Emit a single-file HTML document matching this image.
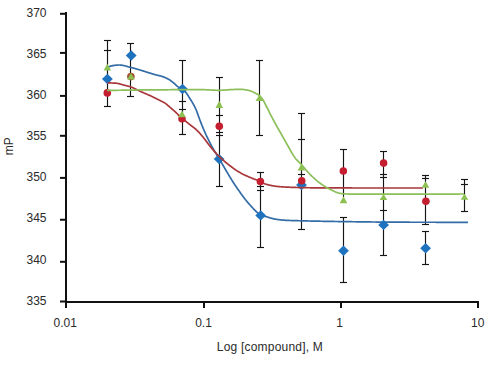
<!DOCTYPE html>
<html><head><meta charset="utf-8"><style>
html,body{margin:0;padding:0;background:#fff;width:491px;height:368px;overflow:hidden}
svg{display:block;font-family:"Liberation Sans",sans-serif}
</style></head><body>
<svg width="491" height="368" viewBox="0 0 491 368">
<rect width="491" height="368" fill="#fff"/>
<g fill="#2a2a2a" font-family="Liberation Sans, sans-serif" font-size="12"><text x="46.5" y="17.2" text-anchor="end">370</text><text x="46.5" y="57.9" text-anchor="end">365</text><text x="46.5" y="99.1" text-anchor="end">360</text><text x="46.5" y="140.1" text-anchor="end">355</text><text x="46.5" y="181.0" text-anchor="end">350</text><text x="46.5" y="222.4" text-anchor="end">345</text><text x="46.5" y="263.5" text-anchor="end">340</text><text x="46.5" y="305.0" text-anchor="end">335</text><text x="65.2" y="327.2" text-anchor="middle">0.01</text><text x="203.5" y="327.2" text-anchor="middle">0.1</text><text x="339.5" y="327.2" text-anchor="middle">1</text><text x="477.8" y="327.2" text-anchor="middle">10</text><text x="269.9" y="350.6" text-anchor="middle" letter-spacing="0.2">Log [compound], M</text><text transform="translate(12.7,146.3) rotate(-90)" text-anchor="middle">mP</text></g>
<g stroke="#151515" stroke-width="1.15" fill="none"><line x1="107.5" y1="40" x2="107.5" y2="107"/><line x1="104.0" y1="40.5" x2="111.0" y2="40.5"/><line x1="104.0" y1="50.5" x2="111.0" y2="50.5"/><line x1="104.0" y1="106.5" x2="111.0" y2="106.5"/><line x1="130.5" y1="43" x2="130.5" y2="97"/><line x1="127.0" y1="43.5" x2="134.0" y2="43.5"/><line x1="127.0" y1="96.5" x2="134.0" y2="96.5"/><line x1="182.5" y1="60" x2="182.5" y2="135"/><line x1="179.0" y1="60.5" x2="186.0" y2="60.5"/><line x1="179.0" y1="101.5" x2="186.0" y2="101.5"/><line x1="179.0" y1="109.5" x2="186.0" y2="109.5"/><line x1="179.0" y1="134.5" x2="186.0" y2="134.5"/><line x1="219.5" y1="77" x2="219.5" y2="187"/><line x1="216.0" y1="77.5" x2="223.0" y2="77.5"/><line x1="216.0" y1="115.5" x2="223.0" y2="115.5"/><line x1="216.0" y1="132.5" x2="223.0" y2="132.5"/><line x1="216.0" y1="135.5" x2="223.0" y2="135.5"/><line x1="216.0" y1="186.5" x2="223.0" y2="186.5"/><line x1="259.5" y1="60" x2="259.5" y2="136"/><line x1="256.0" y1="60.5" x2="263.0" y2="60.5"/><line x1="256.0" y1="135.5" x2="263.0" y2="135.5"/><line x1="260.5" y1="172" x2="260.5" y2="248"/><line x1="257.0" y1="172.5" x2="264.0" y2="172.5"/><line x1="257.0" y1="186.5" x2="264.0" y2="186.5"/><line x1="257.0" y1="190.5" x2="264.0" y2="190.5"/><line x1="257.0" y1="247.5" x2="264.0" y2="247.5"/><line x1="301.5" y1="113" x2="301.5" y2="230"/><line x1="298.0" y1="113.5" x2="305.0" y2="113.5"/><line x1="298.0" y1="139.5" x2="305.0" y2="139.5"/><line x1="298.0" y1="174.5" x2="305.0" y2="174.5"/><line x1="298.0" y1="229.5" x2="305.0" y2="229.5"/><line x1="343.5" y1="149" x2="343.5" y2="197"/><line x1="343.5" y1="217" x2="343.5" y2="283"/><line x1="340.0" y1="149.5" x2="347.0" y2="149.5"/><line x1="340.0" y1="217.5" x2="347.0" y2="217.5"/><line x1="340.0" y1="282.5" x2="347.0" y2="282.5"/><line x1="383.5" y1="151" x2="383.5" y2="256"/><line x1="380.0" y1="151.5" x2="387.0" y2="151.5"/><line x1="380.0" y1="174.5" x2="387.0" y2="174.5"/><line x1="380.0" y1="177.5" x2="387.0" y2="177.5"/><line x1="380.0" y1="210.5" x2="387.0" y2="210.5"/><line x1="380.0" y1="255.5" x2="387.0" y2="255.5"/><line x1="425.5" y1="175" x2="425.5" y2="225"/><line x1="425.5" y1="231" x2="425.5" y2="265"/><line x1="422.0" y1="175.5" x2="429.0" y2="175.5"/><line x1="422.0" y1="178.5" x2="429.0" y2="178.5"/><line x1="422.0" y1="224.5" x2="429.0" y2="224.5"/><line x1="422.0" y1="231.5" x2="429.0" y2="231.5"/><line x1="422.0" y1="264.5" x2="429.0" y2="264.5"/><line x1="464.5" y1="179" x2="464.5" y2="212"/><line x1="461.0" y1="179.5" x2="468.0" y2="179.5"/><line x1="461.0" y1="184.5" x2="468.0" y2="184.5"/><line x1="461.0" y1="211.5" x2="468.0" y2="211.5"/></g>
<g stroke="#111" stroke-width="2" fill="none"><line x1="66" y1="12" x2="66" y2="303" /><line x1="65" y1="302" x2="479" y2="302" /><line x1="60" y1="13.8" x2="66" y2="13.8" /><line x1="60" y1="52.9" x2="66" y2="52.9" /><line x1="60" y1="95.9" x2="66" y2="95.9" /><line x1="60" y1="135.8" x2="66" y2="135.8" /><line x1="60" y1="177.9" x2="66" y2="177.9" /><line x1="60" y1="219.75" x2="66" y2="219.75" /><line x1="60" y1="261.8" x2="66" y2="261.8" /><line x1="60" y1="301.5" x2="66" y2="301.5" /><line x1="66" y1="301" x2="66" y2="308" /><line x1="204" y1="301" x2="204" y2="308" /><line x1="341" y1="301" x2="341" y2="308" /><line x1="478" y1="301" x2="478" y2="308" /></g>
<path d="M107.50,67.30 L108.00,67.09 L108.50,66.89 L109.00,66.69 L109.50,66.50 L110.00,66.33 L110.50,66.17 L111.00,66.02 L111.50,65.90 L112.00,65.80 L112.50,65.71 L113.00,65.63 L113.50,65.54 L114.00,65.46 L114.50,65.38 L115.00,65.31 L115.50,65.25 L116.00,65.19 L116.50,65.13 L117.00,65.09 L117.50,65.05 L118.00,65.02 L118.50,65.01 L119.00,65.00 L119.50,65.01 L120.00,65.03 L120.50,65.07 L121.00,65.12 L121.50,65.18 L122.00,65.26 L122.50,65.34 L123.00,65.43 L123.50,65.54 L124.00,65.65 L124.50,65.77 L125.00,65.89 L125.50,66.02 L126.00,66.15 L126.50,66.29 L127.00,66.43 L127.50,66.56 L128.00,66.70 L128.50,66.84 L129.00,66.98 L129.50,67.12 L130.00,67.25 L130.50,67.38 L131.00,67.50 L131.50,67.62 L132.00,67.75 L132.50,67.87 L133.00,68.00 L133.50,68.13 L134.00,68.26 L134.50,68.40 L135.00,68.54 L135.50,68.68 L136.00,68.82 L136.50,68.96 L137.00,69.10 L137.50,69.25 L138.00,69.40 L138.50,69.55 L139.00,69.70 L139.50,69.85 L140.00,70.00 L140.50,70.15 L141.00,70.31 L141.50,70.46 L142.00,70.62 L142.50,70.77 L143.00,70.93 L143.50,71.09 L144.00,71.25 L144.50,71.40 L145.00,71.56 L145.50,71.72 L146.00,71.88 L146.50,72.03 L147.00,72.19 L147.50,72.35 L148.00,72.51 L148.50,72.66 L149.00,72.82 L149.50,72.97 L150.00,73.13 L150.50,73.28 L151.00,73.43 L151.50,73.58 L152.00,73.73 L152.50,73.88 L153.00,74.03 L153.50,74.17 L154.00,74.32 L154.50,74.46 L155.00,74.60 L155.50,74.74 L156.00,74.87 L156.50,75.00 L157.00,75.12 L157.50,75.25 L158.00,75.37 L158.50,75.49 L159.00,75.62 L159.50,75.74 L160.00,75.87 L160.50,76.00 L161.00,76.14 L161.50,76.28 L162.00,76.43 L162.50,76.59 L163.00,76.75 L163.50,76.92 L164.00,77.10 L164.50,77.29 L165.00,77.49 L165.50,77.70 L166.00,77.92 L166.50,78.15 L167.00,78.39 L167.50,78.64 L168.00,78.90 L168.50,79.18 L169.00,79.48 L169.50,79.80 L170.00,80.14 L170.50,80.50 L171.00,80.87 L171.50,81.24 L172.00,81.62 L172.50,82.01 L173.00,82.40 L173.50,82.81 L174.00,83.25 L174.50,83.72 L175.00,84.20 L175.50,84.68 L176.00,85.15 L176.50,85.60 L177.00,86.03 L177.50,86.41 L178.00,86.75 L178.50,87.03 L179.00,87.28 L179.50,87.49 L180.00,87.69 L180.50,87.89 L181.00,88.10 L181.50,88.33 L182.00,88.59 L182.50,88.90 L183.00,89.27 L183.50,89.70 L184.00,90.19 L184.50,90.73 L185.00,91.32 L185.50,91.95 L186.00,92.62 L186.50,93.32 L187.00,94.05 L187.50,94.81 L188.00,95.57 L188.50,96.35 L189.00,97.14 L189.50,97.93 L190.00,98.72 L190.50,99.50 L191.00,100.28 L191.50,101.08 L192.00,101.90 L192.50,102.74 L193.00,103.60 L193.50,104.50 L194.00,105.42 L194.50,106.38 L195.00,107.38 L195.50,108.42 L196.00,109.50 L196.50,110.68 L197.00,111.98 L197.50,113.36 L198.00,114.80 L198.50,116.24 L199.00,117.65 L199.50,119.00 L200.00,120.30 L200.50,121.60 L201.00,122.90 L201.50,124.18 L202.00,125.44 L202.50,126.69 L203.00,127.91 L203.50,129.11 L204.00,130.27 L204.50,131.41 L205.00,132.53 L205.50,133.64 L206.00,134.73 L206.50,135.81 L207.00,136.87 L207.50,137.92 L208.00,138.95 L208.50,139.98 L209.00,140.98 L209.50,141.98 L210.00,142.96 L210.50,143.92 L211.00,144.88 L211.50,145.81 L212.00,146.74 L212.50,147.64 L213.00,148.52 L213.50,149.39 L214.00,150.25 L214.50,151.09 L215.00,151.92 L215.50,152.75 L216.00,153.57 L216.50,154.39 L217.00,155.20 L217.50,156.02 L218.00,156.84 L218.50,157.67 L219.00,158.50 L219.50,159.34 L220.00,160.18 L220.50,161.03 L221.00,161.88 L221.50,162.73 L222.00,163.59 L222.50,164.44 L223.00,165.30 L223.50,166.16 L224.00,167.02 L224.50,167.88 L225.00,168.73 L225.50,169.59 L226.00,170.45 L226.50,171.30 L227.00,172.15 L227.50,172.99 L228.00,173.84 L228.50,174.68 L229.00,175.51 L229.50,176.34 L230.00,177.17 L230.50,177.98 L231.00,178.80 L231.50,179.60 L232.00,180.40 L232.50,181.19 L233.00,181.97 L233.50,182.74 L234.00,183.50 L234.50,184.26 L235.00,185.00 L235.50,185.74 L236.00,186.47 L236.50,187.21 L237.00,187.94 L237.50,188.67 L238.00,189.40 L238.50,190.12 L239.00,190.84 L239.50,191.56 L240.00,192.27 L240.50,192.98 L241.00,193.68 L241.50,194.38 L242.00,195.07 L242.50,195.75 L243.00,196.43 L243.50,197.10 L244.00,197.76 L244.50,198.42 L245.00,199.07 L245.50,199.70 L246.00,200.33 L246.50,200.95 L247.00,201.56 L247.50,202.17 L248.00,202.75 L248.50,203.33 L249.00,203.90 L249.50,204.46 L250.00,205.00 L250.50,205.54 L251.00,206.08 L251.50,206.63 L252.00,207.18 L252.50,207.72 L253.00,208.26 L253.50,208.80 L254.00,209.33 L254.50,209.85 L255.00,210.36 L255.50,210.86 L256.00,211.34 L256.50,211.80 L257.00,212.25 L257.50,212.68 L258.00,213.08 L258.50,213.46 L259.00,213.82 L259.50,214.14 L260.00,214.44 L260.50,214.70 L261.00,214.94 L261.50,215.15 L262.00,215.35 L262.50,215.54 L263.00,215.71 L263.50,215.87 L264.00,216.03 L264.50,216.18 L265.00,216.32 L265.50,216.47 L266.00,216.61 L266.50,216.75 L267.00,216.90 L267.50,217.05 L268.00,217.21 L268.50,217.36 L269.00,217.52 L269.50,217.67 L270.00,217.83 L270.50,217.98 L271.00,218.13 L271.50,218.27 L272.00,218.41 L272.50,218.55 L273.00,218.68 L273.50,218.80 L274.00,218.91 L274.50,219.02 L275.00,219.12 L275.50,219.20 L276.00,219.28 L276.50,219.35 L277.00,219.43 L277.50,219.50 L278.00,219.57 L278.50,219.63 L279.00,219.70 L279.50,219.76 L280.00,219.82 L280.50,219.88 L281.00,219.93 L281.50,219.98 L282.00,220.03 L282.50,220.07 L283.00,220.11 L283.50,220.15 L284.00,220.19 L284.50,220.22 L285.00,220.25 L285.50,220.28 L286.00,220.30 L286.50,220.33 L287.00,220.35 L287.50,220.38 L288.00,220.40 L288.50,220.42 L289.00,220.44 L289.50,220.46 L290.00,220.48 L290.50,220.50 L291.00,220.52 L291.50,220.53 L292.00,220.55 L292.50,220.57 L293.00,220.58 L293.50,220.60 L294.00,220.61 L294.50,220.63 L295.00,220.64 L295.50,220.66 L296.00,220.67 L296.50,220.68 L297.00,220.70 L297.50,220.71 L298.00,220.72 L298.50,220.74 L299.00,220.75 L299.50,220.76 L300.00,220.77 L300.50,220.79 L301.00,220.80 L301.50,220.81 L302.00,220.83 L302.50,220.84 L303.00,220.85 L303.50,220.86 L304.00,220.88 L304.50,220.89 L305.00,220.90 L305.50,220.91 L306.00,220.92 L306.50,220.94 L307.00,220.95 L307.50,220.96 L308.00,220.97 L308.50,220.98 L309.00,220.99 L309.50,221.00 L310.00,221.02 L310.50,221.03 L311.00,221.04 L311.50,221.05 L312.00,221.06 L312.50,221.07 L313.00,221.08 L313.50,221.09 L314.00,221.10 L314.50,221.11 L315.00,221.12 L315.50,221.13 L316.00,221.14 L316.50,221.15 L317.00,221.16 L317.50,221.18 L318.00,221.18 L318.50,221.19 L319.00,221.20 L319.50,221.21 L320.00,221.22 L320.50,221.23 L321.00,221.24 L321.50,221.25 L322.00,221.26 L322.50,221.27 L323.00,221.28 L323.50,221.29 L324.00,221.30 L324.50,221.31 L325.00,221.32 L325.50,221.33 L326.00,221.33 L326.50,221.34 L327.00,221.35 L327.50,221.36 L328.00,221.37 L328.50,221.38 L329.00,221.39 L329.50,221.40 L330.00,221.40 L330.50,221.41 L331.00,221.42 L331.50,221.43 L332.00,221.44 L332.50,221.44 L333.00,221.45 L333.50,221.46 L334.00,221.47 L334.50,221.48 L335.00,221.48 L335.50,221.49 L336.00,221.50 L336.50,221.51 L337.00,221.51 L337.50,221.52 L338.00,221.53 L338.50,221.54 L339.00,221.54 L339.50,221.55 L340.00,221.56 L340.50,221.56 L341.00,221.57 L341.50,221.58 L342.00,221.59 L342.50,221.59 L343.00,221.60 L343.50,221.61 L344.00,221.61 L344.50,221.62 L345.00,221.63 L345.50,221.63 L346.00,221.64 L346.50,221.65 L347.00,221.66 L347.50,221.66 L348.00,221.67 L348.50,221.68 L349.00,221.68 L349.50,221.69 L350.00,221.70 L350.50,221.70 L351.00,221.71 L351.50,221.72 L352.00,221.72 L352.50,221.73 L353.00,221.74 L353.50,221.75 L354.00,221.75 L354.50,221.76 L355.00,221.77 L355.50,221.77 L356.00,221.78 L356.50,221.79 L357.00,221.79 L357.50,221.80 L358.00,221.81 L358.50,221.81 L359.00,221.82 L359.50,221.83 L360.00,221.83 L360.50,221.84 L361.00,221.85 L361.50,221.85 L362.00,221.86 L362.50,221.87 L363.00,221.87 L363.50,221.88 L364.00,221.89 L364.50,221.89 L365.00,221.90 L365.50,221.91 L366.00,221.91 L366.50,221.92 L367.00,221.92 L367.50,221.93 L368.00,221.94 L368.50,221.94 L369.00,221.95 L369.50,221.96 L370.00,221.96 L370.50,221.97 L371.00,221.97 L371.50,221.98 L372.00,221.99 L372.50,221.99 L373.00,222.00 L373.50,222.00 L374.00,222.01 L374.50,222.01 L375.00,222.02 L375.50,222.02 L376.00,222.03 L376.50,222.04 L377.00,222.04 L377.50,222.05 L378.00,222.05 L378.50,222.06 L379.00,222.06 L379.50,222.07 L380.00,222.07 L380.50,222.08 L381.00,222.08 L381.50,222.08 L382.00,222.09 L382.50,222.09 L383.00,222.10 L383.50,222.10 L384.00,222.11 L384.50,222.11 L385.00,222.12 L385.50,222.12 L386.00,222.12 L386.50,222.13 L387.00,222.13 L387.50,222.14 L388.00,222.14 L388.50,222.14 L389.00,222.15 L389.50,222.15 L390.00,222.15 L390.50,222.16 L391.00,222.16 L391.50,222.16 L392.00,222.17 L392.50,222.17 L393.00,222.17 L393.50,222.17 L394.00,222.18 L394.50,222.18 L395.00,222.18 L395.50,222.18 L396.00,222.19 L396.50,222.19 L397.00,222.19 L397.50,222.19 L398.00,222.19 L398.50,222.20 L399.00,222.20 L399.50,222.20 L400.00,222.20 L400.50,222.20 L401.00,222.20 L401.50,222.20 L402.00,222.21 L402.50,222.21 L403.00,222.21 L403.50,222.21 L404.00,222.21 L404.50,222.21 L405.00,222.21 L405.50,222.21 L406.00,222.22 L406.50,222.22 L407.00,222.22 L407.50,222.22 L408.00,222.22 L408.50,222.22 L409.00,222.22 L409.50,222.22 L410.00,222.23 L410.50,222.23 L411.00,222.23 L411.50,222.23 L412.00,222.23 L412.50,222.23 L413.00,222.23 L413.50,222.23 L414.00,222.23 L414.50,222.24 L415.00,222.24 L415.50,222.24 L416.00,222.24 L416.50,222.24 L417.00,222.24 L417.50,222.24 L418.00,222.24 L418.50,222.24 L419.00,222.25 L419.50,222.25 L420.00,222.25 L420.50,222.25 L421.00,222.25 L421.50,222.25 L422.00,222.25 L422.50,222.25 L423.00,222.25 L423.50,222.25 L424.00,222.26 L424.50,222.26 L425.00,222.26 L425.50,222.26 L426.00,222.26 L426.50,222.26 L427.00,222.26 L427.50,222.26 L428.00,222.26 L428.50,222.26 L429.00,222.26 L429.50,222.27 L430.00,222.27 L430.50,222.27 L431.00,222.27 L431.50,222.27 L432.00,222.27 L432.50,222.27 L433.00,222.27 L433.50,222.27 L434.00,222.27 L434.50,222.27 L435.00,222.27 L435.50,222.27 L436.00,222.28 L436.50,222.28 L437.00,222.28 L437.50,222.28 L438.00,222.28 L438.50,222.28 L439.00,222.28 L439.50,222.28 L440.00,222.28 L440.50,222.28 L441.00,222.28 L441.50,222.28 L442.00,222.28 L442.50,222.28 L443.00,222.28 L443.50,222.29 L444.00,222.29 L444.50,222.29 L445.00,222.29 L445.50,222.29 L446.00,222.29 L446.50,222.29 L447.00,222.29 L447.50,222.29 L448.00,222.29 L448.50,222.29 L449.00,222.29 L449.50,222.29 L450.00,222.29 L450.50,222.29 L451.00,222.29 L451.50,222.29 L452.00,222.29 L452.50,222.29 L453.00,222.29 L453.50,222.29 L454.00,222.30 L454.50,222.30 L455.00,222.30 L455.50,222.30 L456.00,222.30 L456.50,222.30 L457.00,222.30 L457.50,222.30 L458.00,222.30 L458.50,222.30 L459.00,222.30 L459.50,222.30 L460.00,222.30 L460.50,222.30 L461.00,222.30 L461.50,222.30 L462.00,222.30 L462.50,222.30 L463.00,222.30 L463.50,222.30 L464.00,222.30 L464.50,222.30 L465.00,222.30 L465.50,222.30 L466.00,222.30 L466.50,222.30 L467.00,222.30 L467.50,222.30 L468.00,222.30" fill="none" stroke="#336ca6" stroke-width="1.7"/><g fill="#1f73be"><path d="M107.4,73.8 L112.80000000000001,79.0 L107.4,84.2 L102.0,79.0Z"/><path d="M131.2,50.3 L136.6,55.5 L131.2,60.7 L125.79999999999998,55.5Z"/><path d="M182.5,83.8 L187.9,89 L182.5,94.2 L177.1,89Z"/><path d="M219.1,153.9 L224.5,159.1 L219.1,164.29999999999998 L213.7,159.1Z"/><path d="M260.7,210.20000000000002 L266.09999999999997,215.4 L260.7,220.6 L255.29999999999998,215.4Z"/><path d="M301.5,179.8 L306.9,185 L301.5,190.2 L296.1,185Z"/><path d="M343.5,245.5 L348.9,250.7 L343.5,255.89999999999998 L338.1,250.7Z"/><path d="M383.6,219.70000000000002 L389.0,224.9 L383.6,230.1 L378.20000000000005,224.9Z"/><path d="M425.6,243.0 L431.0,248.2 L425.6,253.39999999999998 L420.20000000000005,248.2Z"/></g><path d="M107.50,82.90 L108.00,82.90 L108.50,82.91 L109.00,82.91 L109.50,82.92 L110.00,82.93 L110.50,82.94 L111.00,82.96 L111.50,82.98 L112.00,82.99 L112.50,83.01 L113.00,83.04 L113.50,83.06 L114.00,83.09 L114.50,83.11 L115.00,83.14 L115.50,83.17 L116.00,83.20 L116.50,83.24 L117.00,83.30 L117.50,83.38 L118.00,83.47 L118.50,83.58 L119.00,83.70 L119.50,83.82 L120.00,83.96 L120.50,84.10 L121.00,84.25 L121.50,84.39 L122.00,84.54 L122.50,84.69 L123.00,84.83 L123.50,84.97 L124.00,85.10 L124.50,85.23 L125.00,85.35 L125.50,85.47 L126.00,85.60 L126.50,85.72 L127.00,85.85 L127.50,85.97 L128.00,86.10 L128.50,86.24 L129.00,86.38 L129.50,86.52 L130.00,86.68 L130.50,86.83 L131.00,87.00 L131.50,87.18 L132.00,87.37 L132.50,87.58 L133.00,87.79 L133.50,88.02 L134.00,88.25 L134.50,88.50 L135.00,88.75 L135.50,89.00 L136.00,89.25 L136.50,89.51 L137.00,89.77 L137.50,90.03 L138.00,90.28 L138.50,90.53 L139.00,90.78 L139.50,91.02 L140.00,91.25 L140.50,91.47 L141.00,91.70 L141.50,91.92 L142.00,92.13 L142.50,92.35 L143.00,92.56 L143.50,92.78 L144.00,92.99 L144.50,93.20 L145.00,93.41 L145.50,93.62 L146.00,93.83 L146.50,94.05 L147.00,94.26 L147.50,94.48 L148.00,94.70 L148.50,94.92 L149.00,95.14 L149.50,95.37 L150.00,95.60 L150.50,95.83 L151.00,96.07 L151.50,96.31 L152.00,96.56 L152.50,96.80 L153.00,97.05 L153.50,97.30 L154.00,97.55 L154.50,97.80 L155.00,98.06 L155.50,98.31 L156.00,98.57 L156.50,98.82 L157.00,99.08 L157.50,99.33 L158.00,99.59 L158.50,99.84 L159.00,100.10 L159.50,100.35 L160.00,100.60 L160.50,100.84 L161.00,101.08 L161.50,101.31 L162.00,101.54 L162.50,101.77 L163.00,102.01 L163.50,102.26 L164.00,102.52 L164.50,102.80 L165.00,103.10 L165.50,103.43 L166.00,103.80 L166.50,104.20 L167.00,104.62 L167.50,105.06 L168.00,105.51 L168.50,105.96 L169.00,106.42 L169.50,106.87 L170.00,107.30 L170.50,107.72 L171.00,108.15 L171.50,108.57 L172.00,108.99 L172.50,109.41 L173.00,109.84 L173.50,110.27 L174.00,110.70 L174.50,111.14 L175.00,111.58 L175.50,112.04 L176.00,112.50 L176.50,112.98 L177.00,113.49 L177.50,114.02 L178.00,114.56 L178.50,115.10 L179.00,115.65 L179.50,116.19 L180.00,116.72 L180.50,117.23 L181.00,117.72 L181.50,118.18 L182.00,118.60 L182.50,118.98 L183.00,119.32 L183.50,119.65 L184.00,120.00 L184.50,120.37 L185.00,120.75 L185.50,121.13 L186.00,121.52 L186.50,121.91 L187.00,122.30 L187.50,122.70 L188.00,123.10 L188.50,123.50 L189.00,123.90 L189.50,124.30 L190.00,124.70 L190.50,125.10 L191.00,125.49 L191.50,125.87 L192.00,126.25 L192.50,126.63 L193.00,127.01 L193.50,127.39 L194.00,127.78 L194.50,128.18 L195.00,128.59 L195.50,129.01 L196.00,129.45 L196.50,129.90 L197.00,130.37 L197.50,130.86 L198.00,131.37 L198.50,131.89 L199.00,132.43 L199.50,132.98 L200.00,133.54 L200.50,134.11 L201.00,134.69 L201.50,135.27 L202.00,135.86 L202.50,136.45 L203.00,137.05 L203.50,137.67 L204.00,138.30 L204.50,138.95 L205.00,139.61 L205.50,140.28 L206.00,140.95 L206.50,141.62 L207.00,142.29 L207.50,142.96 L208.00,143.62 L208.50,144.27 L209.00,144.90 L209.50,145.53 L210.00,146.15 L210.50,146.77 L211.00,147.40 L211.50,148.01 L212.00,148.63 L212.50,149.23 L213.00,149.83 L213.50,150.42 L214.00,151.00 L214.50,151.57 L215.00,152.13 L215.50,152.67 L216.00,153.20 L216.50,153.73 L217.00,154.24 L217.50,154.75 L218.00,155.25 L218.50,155.74 L219.00,156.23 L219.50,156.71 L220.00,157.19 L220.50,157.66 L221.00,158.13 L221.50,158.60 L222.00,159.06 L222.50,159.53 L223.00,159.98 L223.50,160.44 L224.00,160.88 L224.50,161.32 L225.00,161.76 L225.50,162.18 L226.00,162.59 L226.50,163.00 L227.00,163.40 L227.50,163.80 L228.00,164.19 L228.50,164.59 L229.00,164.98 L229.50,165.37 L230.00,165.76 L230.50,166.15 L231.00,166.53 L231.50,166.91 L232.00,167.29 L232.50,167.66 L233.00,168.03 L233.50,168.39 L234.00,168.75 L234.50,169.10 L235.00,169.45 L235.50,169.80 L236.00,170.13 L236.50,170.47 L237.00,170.79 L237.50,171.11 L238.00,171.42 L238.50,171.73 L239.00,172.03 L239.50,172.32 L240.00,172.60 L240.50,172.88 L241.00,173.15 L241.50,173.41 L242.00,173.68 L242.50,173.93 L243.00,174.19 L243.50,174.44 L244.00,174.68 L244.50,174.92 L245.00,175.16 L245.50,175.40 L246.00,175.63 L246.50,175.86 L247.00,176.08 L247.50,176.30 L248.00,176.52 L248.50,176.74 L249.00,176.95 L249.50,177.17 L250.00,177.38 L250.50,177.59 L251.00,177.79 L251.50,178.00 L252.00,178.20 L252.50,178.40 L253.00,178.60 L253.50,178.80 L254.00,179.00 L254.50,179.19 L255.00,179.37 L255.50,179.55 L256.00,179.72 L256.50,179.88 L257.00,180.05 L257.50,180.21 L258.00,180.38 L258.50,180.55 L259.00,180.73 L259.50,180.92 L260.00,181.13 L260.50,181.35 L261.00,181.60 L261.50,181.90 L262.00,182.22 L262.50,182.55 L263.00,182.87 L263.50,183.19 L264.00,183.47 L264.50,183.71 L265.00,183.90 L265.50,184.05 L266.00,184.20 L266.50,184.34 L267.00,184.48 L267.50,184.62 L268.00,184.75 L268.50,184.87 L269.00,185.00 L269.50,185.12 L270.00,185.23 L270.50,185.34 L271.00,185.45 L271.50,185.55 L272.00,185.65 L272.50,185.74 L273.00,185.83 L273.50,185.92 L274.00,186.00 L274.50,186.08 L275.00,186.16 L275.50,186.23 L276.00,186.29 L276.50,186.36 L277.00,186.42 L277.50,186.47 L278.00,186.53 L278.50,186.58 L279.00,186.62 L279.50,186.66 L280.00,186.70 L280.50,186.74 L281.00,186.77 L281.50,186.80 L282.00,186.84 L282.50,186.87 L283.00,186.90 L283.50,186.93 L284.00,186.96 L284.50,186.99 L285.00,187.02 L285.50,187.05 L286.00,187.07 L286.50,187.10 L287.00,187.12 L287.50,187.15 L288.00,187.17 L288.50,187.20 L289.00,187.22 L289.50,187.24 L290.00,187.26 L290.50,187.28 L291.00,187.30 L291.50,187.32 L292.00,187.34 L292.50,187.36 L293.00,187.38 L293.50,187.40 L294.00,187.41 L294.50,187.43 L295.00,187.44 L295.50,187.46 L296.00,187.47 L296.50,187.49 L297.00,187.50 L297.50,187.52 L298.00,187.53 L298.50,187.54 L299.00,187.55 L299.50,187.57 L300.00,187.58 L300.50,187.59 L301.00,187.60 L301.50,187.61 L302.00,187.62 L302.50,187.63 L303.00,187.64 L303.50,187.65 L304.00,187.66 L304.50,187.67 L305.00,187.68 L305.50,187.69 L306.00,187.70 L306.50,187.71 L307.00,187.72 L307.50,187.73 L308.00,187.74 L308.50,187.75 L309.00,187.76 L309.50,187.77 L310.00,187.77 L310.50,187.78 L311.00,187.79 L311.50,187.80 L312.00,187.80 L312.50,187.81 L313.00,187.82 L313.50,187.83 L314.00,187.83 L314.50,187.84 L315.00,187.84 L315.50,187.85 L316.00,187.86 L316.50,187.86 L317.00,187.87 L317.50,187.87 L318.00,187.88 L318.50,187.88 L319.00,187.88 L319.50,187.89 L320.00,187.89 L320.50,187.89 L321.00,187.90 L321.50,187.90 L322.00,187.90 L322.50,187.90 L323.00,187.90 L323.50,187.91 L324.00,187.91 L324.50,187.91 L325.00,187.91 L325.50,187.91 L326.00,187.91 L326.50,187.91 L327.00,187.92 L327.50,187.92 L328.00,187.92 L328.50,187.92 L329.00,187.92 L329.50,187.92 L330.00,187.93 L330.50,187.93 L331.00,187.93 L331.50,187.93 L332.00,187.93 L332.50,187.93 L333.00,187.93 L333.50,187.94 L334.00,187.94 L334.50,187.94 L335.00,187.94 L335.50,187.94 L336.00,187.94 L336.50,187.94 L337.00,187.94 L337.50,187.95 L338.00,187.95 L338.50,187.95 L339.00,187.95 L339.50,187.95 L340.00,187.95 L340.50,187.95 L341.00,187.95 L341.50,187.96 L342.00,187.96 L342.50,187.96 L343.00,187.96 L343.50,187.96 L344.00,187.96 L344.50,187.96 L345.00,187.96 L345.50,187.96 L346.00,187.96 L346.50,187.97 L347.00,187.97 L347.50,187.97 L348.00,187.97 L348.50,187.97 L349.00,187.97 L349.50,187.97 L350.00,187.97 L350.50,187.97 L351.00,187.97 L351.50,187.97 L352.00,187.98 L352.50,187.98 L353.00,187.98 L353.50,187.98 L354.00,187.98 L354.50,187.98 L355.00,187.98 L355.50,187.98 L356.00,187.98 L356.50,187.98 L357.00,187.98 L357.50,187.98 L358.00,187.98 L358.50,187.99 L359.00,187.99 L359.50,187.99 L360.00,187.99 L360.50,187.99 L361.00,187.99 L361.50,187.99 L362.00,187.99 L362.50,187.99 L363.00,187.99 L363.50,187.99 L364.00,187.99 L364.50,187.99 L365.00,187.99 L365.50,187.99 L366.00,187.99 L366.50,187.99 L367.00,187.99 L367.50,187.99 L368.00,187.99 L368.50,188.00 L369.00,188.00 L369.50,188.00 L370.00,188.00 L370.50,188.00 L371.00,188.00 L371.50,188.00 L372.00,188.00 L372.50,188.00 L373.00,188.00 L373.50,188.00 L374.00,188.00 L374.50,188.00 L375.00,188.00 L375.50,188.00 L376.00,188.00 L376.50,188.00 L377.00,188.00 L377.50,188.00 L378.00,188.00 L378.50,188.00 L379.00,188.00 L379.50,188.00 L380.00,188.00 L380.50,188.00 L381.00,188.00 L381.50,188.00 L382.00,188.00 L382.50,188.00 L383.00,188.00 L383.50,188.00 L384.00,188.00 L384.50,188.00 L385.00,188.00 L385.50,188.00 L386.00,188.00 L386.50,188.00 L387.00,188.00 L387.50,188.00 L388.00,188.00 L388.50,188.00 L389.00,188.00 L389.50,188.00 L390.00,188.00 L390.50,188.00 L391.00,188.00 L391.50,188.00 L392.00,188.00 L392.50,188.00 L393.00,188.00 L393.50,188.00 L394.00,188.00 L394.50,188.00 L395.00,188.00 L395.50,188.00 L396.00,188.00 L396.50,188.00 L397.00,188.00 L397.50,188.00 L398.00,188.00 L398.50,188.00 L399.00,188.00 L399.50,188.00 L400.00,188.00 L400.50,188.00 L401.00,188.00 L401.50,188.00 L402.00,188.00 L402.50,188.00 L403.00,188.00 L403.50,188.00 L404.00,188.00 L404.50,188.00 L405.00,188.00 L405.50,188.00 L406.00,188.00 L406.50,188.00 L407.00,188.00 L407.50,188.00 L408.00,188.00 L408.50,188.00 L409.00,188.00 L409.50,188.00 L410.00,188.00 L410.50,188.00 L411.00,188.00 L411.50,188.00 L412.00,188.00 L412.50,188.00 L413.00,188.00 L413.50,188.00 L414.00,188.00 L414.50,188.00 L415.00,188.00 L415.50,188.00 L416.00,188.00 L416.50,188.00 L417.00,188.00 L417.50,188.00 L418.00,188.00 L418.50,188.00 L419.00,188.00 L419.50,188.00 L420.00,188.00 L420.50,188.00 L421.00,188.00 L421.50,188.00 L422.00,188.00 L422.50,188.00 L423.00,188.00" fill="none" stroke="#a8383b" stroke-width="1.7"/><g fill="#c41e30"><circle cx="107.3" cy="92.9" r="3.8"/><circle cx="130.9" cy="76.6" r="3.8" fill="#a4502f"/><circle cx="182" cy="118.8" r="3.8"/><circle cx="219.3" cy="126.3" r="3.8"/><circle cx="260.4" cy="181.5" r="3.8"/><circle cx="301.7" cy="180.8" r="3.8"/><circle cx="343.35" cy="171" r="3.8"/><circle cx="383.6" cy="163.1" r="3.8"/><circle cx="425.9" cy="201.2" r="3.8"/></g><path d="M107.00,90.40 L107.50,90.39 L108.00,90.39 L108.50,90.38 L109.00,90.38 L109.50,90.37 L110.00,90.36 L110.50,90.36 L111.00,90.35 L111.50,90.35 L112.00,90.34 L112.50,90.33 L113.00,90.33 L113.50,90.32 L114.00,90.31 L114.50,90.31 L115.00,90.30 L115.50,90.30 L116.00,90.29 L116.50,90.28 L117.00,90.28 L117.50,90.27 L118.00,90.26 L118.50,90.26 L119.00,90.25 L119.50,90.25 L120.00,90.24 L120.50,90.23 L121.00,90.23 L121.50,90.22 L122.00,90.21 L122.50,90.21 L123.00,90.20 L123.50,90.20 L124.00,90.19 L124.50,90.18 L125.00,90.18 L125.50,90.17 L126.00,90.16 L126.50,90.16 L127.00,90.15 L127.50,90.14 L128.00,90.14 L128.50,90.13 L129.00,90.13 L129.50,90.12 L130.00,90.11 L130.50,90.11 L131.00,90.10 L131.50,90.09 L132.00,90.09 L132.50,90.08 L133.00,90.07 L133.50,90.07 L134.00,90.06 L134.50,90.05 L135.00,90.04 L135.50,90.04 L136.00,90.03 L136.50,90.02 L137.00,90.01 L137.50,90.00 L138.00,90.00 L138.50,89.99 L139.00,89.98 L139.50,89.97 L140.00,89.96 L140.50,89.96 L141.00,89.95 L141.50,89.94 L142.00,89.93 L142.50,89.93 L143.00,89.92 L143.50,89.91 L144.00,89.91 L144.50,89.90 L145.00,89.89 L145.50,89.89 L146.00,89.88 L146.50,89.88 L147.00,89.87 L147.50,89.87 L148.00,89.86 L148.50,89.86 L149.00,89.86 L149.50,89.85 L150.00,89.85 L150.50,89.85 L151.00,89.85 L151.50,89.84 L152.00,89.84 L152.50,89.84 L153.00,89.84 L153.50,89.84 L154.00,89.83 L154.50,89.83 L155.00,89.83 L155.50,89.83 L156.00,89.83 L156.50,89.83 L157.00,89.83 L157.50,89.83 L158.00,89.82 L158.50,89.82 L159.00,89.82 L159.50,89.82 L160.00,89.82 L160.50,89.82 L161.00,89.82 L161.50,89.81 L162.00,89.81 L162.50,89.81 L163.00,89.81 L163.50,89.81 L164.00,89.80 L164.50,89.80 L165.00,89.80 L165.50,89.80 L166.00,89.79 L166.50,89.79 L167.00,89.78 L167.50,89.78 L168.00,89.77 L168.50,89.76 L169.00,89.75 L169.50,89.75 L170.00,89.74 L170.50,89.73 L171.00,89.72 L171.50,89.71 L172.00,89.70 L172.50,89.69 L173.00,89.68 L173.50,89.67 L174.00,89.66 L174.50,89.65 L175.00,89.65 L175.50,89.64 L176.00,89.63 L176.50,89.62 L177.00,89.62 L177.50,89.61 L178.00,89.61 L178.50,89.60 L179.00,89.60 L179.50,89.60 L180.00,89.60 L180.50,89.60 L181.00,89.60 L181.50,89.60 L182.00,89.60 L182.50,89.60 L183.00,89.60 L183.50,89.60 L184.00,89.60 L184.50,89.60 L185.00,89.60 L185.50,89.60 L186.00,89.60 L186.50,89.60 L187.00,89.60 L187.50,89.60 L188.00,89.60 L188.50,89.60 L189.00,89.60 L189.50,89.60 L190.00,89.60 L190.50,89.60 L191.00,89.60 L191.50,89.60 L192.00,89.60 L192.50,89.60 L193.00,89.60 L193.50,89.60 L194.00,89.60 L194.50,89.60 L195.00,89.60 L195.50,89.60 L196.00,89.60 L196.50,89.60 L197.00,89.60 L197.50,89.60 L198.00,89.60 L198.50,89.60 L199.00,89.60 L199.50,89.60 L200.00,89.60 L200.50,89.60 L201.00,89.61 L201.50,89.61 L202.00,89.62 L202.50,89.63 L203.00,89.65 L203.50,89.66 L204.00,89.68 L204.50,89.70 L205.00,89.72 L205.50,89.74 L206.00,89.77 L206.50,89.79 L207.00,89.82 L207.50,89.84 L208.00,89.87 L208.50,89.89 L209.00,89.92 L209.50,89.95 L210.00,89.98 L210.50,90.01 L211.00,90.03 L211.50,90.06 L212.00,90.08 L212.50,90.11 L213.00,90.13 L213.50,90.16 L214.00,90.18 L214.50,90.20 L215.00,90.22 L215.50,90.24 L216.00,90.25 L216.50,90.27 L217.00,90.28 L217.50,90.29 L218.00,90.29 L218.50,90.30 L219.00,90.30 L219.50,90.30 L220.00,90.29 L220.50,90.28 L221.00,90.26 L221.50,90.24 L222.00,90.22 L222.50,90.19 L223.00,90.16 L223.50,90.13 L224.00,90.10 L224.50,90.06 L225.00,90.03 L225.50,89.99 L226.00,89.95 L226.50,89.92 L227.00,89.88 L227.50,89.85 L228.00,89.81 L228.50,89.78 L229.00,89.75 L229.50,89.72 L230.00,89.70 L230.50,89.68 L231.00,89.65 L231.50,89.63 L232.00,89.60 L232.50,89.57 L233.00,89.55 L233.50,89.52 L234.00,89.49 L234.50,89.47 L235.00,89.44 L235.50,89.42 L236.00,89.40 L236.50,89.38 L237.00,89.36 L237.50,89.34 L238.00,89.33 L238.50,89.32 L239.00,89.31 L239.50,89.30 L240.00,89.30 L240.50,89.31 L241.00,89.32 L241.50,89.35 L242.00,89.38 L242.50,89.42 L243.00,89.47 L243.50,89.53 L244.00,89.59 L244.50,89.66 L245.00,89.74 L245.50,89.81 L246.00,89.90 L246.50,89.98 L247.00,90.07 L247.50,90.16 L248.00,90.25 L248.50,90.35 L249.00,90.47 L249.50,90.61 L250.00,90.76 L250.50,90.93 L251.00,91.11 L251.50,91.30 L252.00,91.51 L252.50,91.72 L253.00,91.95 L253.50,92.18 L254.00,92.41 L254.50,92.66 L255.00,92.90 L255.50,93.15 L256.00,93.40 L256.50,93.65 L257.00,93.92 L257.50,94.20 L258.00,94.51 L258.50,94.84 L259.00,95.20 L259.50,95.60 L260.00,96.06 L260.50,96.59 L261.00,97.19 L261.50,97.84 L262.00,98.53 L262.50,99.26 L263.00,100.00 L263.50,100.79 L264.00,101.66 L264.50,102.58 L265.00,103.54 L265.50,104.53 L266.00,105.53 L266.50,106.51 L267.00,107.49 L267.50,108.47 L268.00,109.48 L268.50,110.49 L269.00,111.51 L269.50,112.53 L270.00,113.54 L270.50,114.54 L271.00,115.52 L271.50,116.48 L272.00,117.42 L272.50,118.36 L273.00,119.30 L273.50,120.23 L274.00,121.15 L274.50,122.06 L275.00,122.97 L275.50,123.88 L276.00,124.78 L276.50,125.68 L277.00,126.57 L277.50,127.47 L278.00,128.35 L278.50,129.24 L279.00,130.12 L279.50,131.01 L280.00,131.89 L280.50,132.77 L281.00,133.65 L281.50,134.53 L282.00,135.41 L282.50,136.29 L283.00,137.17 L283.50,138.05 L284.00,138.94 L284.50,139.82 L285.00,140.71 L285.50,141.60 L286.00,142.49 L286.50,143.37 L287.00,144.26 L287.50,145.13 L288.00,146.00 L288.50,146.87 L289.00,147.76 L289.50,148.67 L290.00,149.57 L290.50,150.48 L291.00,151.38 L291.50,152.28 L292.00,153.15 L292.50,154.01 L293.00,154.84 L293.50,155.64 L294.00,156.40 L294.50,157.13 L295.00,157.80 L295.50,158.43 L296.00,159.03 L296.50,159.59 L297.00,160.13 L297.50,160.66 L298.00,161.16 L298.50,161.66 L299.00,162.15 L299.50,162.64 L300.00,163.14 L300.50,163.64 L301.00,164.16 L301.50,164.70 L302.00,165.26 L302.50,165.83 L303.00,166.40 L303.50,166.99 L304.00,167.58 L304.50,168.17 L305.00,168.77 L305.50,169.36 L306.00,169.94 L306.50,170.53 L307.00,171.10 L307.50,171.66 L308.00,172.21 L308.50,172.74 L309.00,173.26 L309.50,173.77 L310.00,174.28 L310.50,174.78 L311.00,175.29 L311.50,175.78 L312.00,176.27 L312.50,176.76 L313.00,177.24 L313.50,177.71 L314.00,178.18 L314.50,178.64 L315.00,179.09 L315.50,179.53 L316.00,179.97 L316.50,180.39 L317.00,180.80 L317.50,181.21 L318.00,181.60 L318.50,181.98 L319.00,182.37 L319.50,182.74 L320.00,183.11 L320.50,183.48 L321.00,183.84 L321.50,184.20 L322.00,184.55 L322.50,184.89 L323.00,185.23 L323.50,185.56 L324.00,185.89 L324.50,186.20 L325.00,186.51 L325.50,186.82 L326.00,187.11 L326.50,187.40 L327.00,187.67 L327.50,187.94 L328.00,188.20 L328.50,188.46 L329.00,188.72 L329.50,188.98 L330.00,189.24 L330.50,189.50 L331.00,189.76 L331.50,190.02 L332.00,190.28 L332.50,190.53 L333.00,190.78 L333.50,191.03 L334.00,191.27 L334.50,191.50 L335.00,191.72 L335.50,191.94 L336.00,192.15 L336.50,192.34 L337.00,192.53 L337.50,192.70 L338.00,192.86 L338.50,193.01 L339.00,193.14 L339.50,193.25 L340.00,193.35 L340.50,193.44 L341.00,193.50 L341.50,193.55 L342.00,193.61 L342.50,193.66 L343.00,193.71 L343.50,193.75 L344.00,193.80 L344.50,193.84 L345.00,193.88 L345.50,193.92 L346.00,193.95 L346.50,193.98 L347.00,194.01 L347.50,194.03 L348.00,194.05 L348.50,194.07 L349.00,194.08 L349.50,194.09 L350.00,194.10 L350.50,194.10 L351.00,194.11 L351.50,194.11 L352.00,194.11 L352.50,194.12 L353.00,194.12 L353.50,194.12 L354.00,194.13 L354.50,194.13 L355.00,194.13 L355.50,194.13 L356.00,194.14 L356.50,194.14 L357.00,194.14 L357.50,194.14 L358.00,194.15 L358.50,194.15 L359.00,194.15 L359.50,194.15 L360.00,194.16 L360.50,194.16 L361.00,194.16 L361.50,194.16 L362.00,194.16 L362.50,194.17 L363.00,194.17 L363.50,194.17 L364.00,194.17 L364.50,194.17 L365.00,194.17 L365.50,194.18 L366.00,194.18 L366.50,194.18 L367.00,194.18 L367.50,194.18 L368.00,194.18 L368.50,194.18 L369.00,194.19 L369.50,194.19 L370.00,194.19 L370.50,194.19 L371.00,194.19 L371.50,194.19 L372.00,194.19 L372.50,194.19 L373.00,194.19 L373.50,194.19 L374.00,194.19 L374.50,194.19 L375.00,194.20 L375.50,194.20 L376.00,194.20 L376.50,194.20 L377.00,194.20 L377.50,194.20 L378.00,194.20 L378.50,194.20 L379.00,194.20 L379.50,194.20 L380.00,194.20 L380.50,194.20 L381.00,194.20 L381.50,194.20 L382.00,194.20 L382.50,194.20 L383.00,194.20 L383.50,194.20 L384.00,194.20 L384.50,194.20 L385.00,194.20 L385.50,194.20 L386.00,194.20 L386.50,194.20 L387.00,194.20 L387.50,194.20 L388.00,194.20 L388.50,194.20 L389.00,194.20 L389.50,194.20 L390.00,194.20 L390.50,194.20 L391.00,194.20 L391.50,194.20 L392.00,194.20 L392.50,194.20 L393.00,194.20 L393.50,194.20 L394.00,194.20 L394.50,194.20 L395.00,194.20 L395.50,194.20 L396.00,194.20 L396.50,194.20 L397.00,194.20 L397.50,194.20 L398.00,194.20 L398.50,194.20 L399.00,194.20 L399.50,194.20 L400.00,194.20 L400.50,194.19 L401.00,194.19 L401.50,194.19 L402.00,194.19 L402.50,194.19 L403.00,194.19 L403.50,194.19 L404.00,194.19 L404.50,194.19 L405.00,194.19 L405.50,194.19 L406.00,194.19 L406.50,194.19 L407.00,194.19 L407.50,194.19 L408.00,194.19 L408.50,194.19 L409.00,194.19 L409.50,194.19 L410.00,194.19 L410.50,194.19 L411.00,194.19 L411.50,194.18 L412.00,194.18 L412.50,194.18 L413.00,194.18 L413.50,194.18 L414.00,194.18 L414.50,194.18 L415.00,194.18 L415.50,194.18 L416.00,194.18 L416.50,194.18 L417.00,194.18 L417.50,194.18 L418.00,194.18 L418.50,194.17 L419.00,194.17 L419.50,194.17 L420.00,194.17 L420.50,194.17 L421.00,194.17 L421.50,194.17 L422.00,194.17 L422.50,194.17 L423.00,194.17 L423.50,194.16 L424.00,194.16 L424.50,194.16 L425.00,194.16 L425.50,194.16 L426.00,194.16 L426.50,194.16 L427.00,194.16 L427.50,194.16 L428.00,194.15 L428.50,194.15 L429.00,194.15 L429.50,194.15 L430.00,194.15 L430.50,194.15 L431.00,194.15 L431.50,194.15 L432.00,194.14 L432.50,194.14 L433.00,194.14 L433.50,194.14 L434.00,194.14 L434.50,194.14 L435.00,194.13 L435.50,194.13 L436.00,194.13 L436.50,194.13 L437.00,194.13 L437.50,194.13 L438.00,194.13 L438.50,194.12 L439.00,194.12 L439.50,194.12 L440.00,194.12 L440.50,194.12 L441.00,194.11 L441.50,194.11 L442.00,194.11 L442.50,194.11 L443.00,194.11 L443.50,194.10 L444.00,194.10 L444.50,194.10 L445.00,194.10 L445.50,194.10 L446.00,194.09 L446.50,194.09 L447.00,194.09 L447.50,194.09 L448.00,194.09 L448.50,194.08 L449.00,194.08 L449.50,194.08 L450.00,194.08 L450.50,194.07 L451.00,194.07 L451.50,194.07 L452.00,194.07 L452.50,194.06 L453.00,194.06 L453.50,194.06 L454.00,194.06 L454.50,194.05 L455.00,194.05 L455.50,194.05 L456.00,194.05 L456.50,194.04 L457.00,194.04 L457.50,194.04 L458.00,194.04 L458.50,194.03 L459.00,194.03 L459.50,194.03 L460.00,194.02 L460.50,194.02 L461.00,194.02 L461.50,194.02 L462.00,194.01 L462.50,194.01 L463.00,194.01 L463.50,194.00 L464.00,194.00" fill="none" stroke="#8cbf5a" stroke-width="1.7"/><g fill="#8cc152"><path d="M107.3,63.7 L111.1,70.5 L103.5,70.5Z"/><path d="M131,73.0 L134.8,79.6 L127.2,79.6Z"/><path d="M182,110.4 L185.8,117.2 L178.2,117.2Z"/><path d="M219.3,100.7 L223.10000000000002,107.9 L215.5,107.9Z"/><path d="M259.4,94.6 L263.2,101 L255.59999999999997,101Z"/><path d="M301.3,164.3 L305.1,170.5 L297.5,170.5Z"/><path d="M343.5,196.3 L347.3,203.3 L339.7,203.3Z"/><path d="M383.5,194 L387.3,199.9 L379.7,199.9Z"/><path d="M425.5,181.2 L429.3,187.8 L421.7,187.8Z"/><path d="M464.5,193.7 L468.3,199.8 L460.7,199.8Z"/></g>
</svg>
</body></html>
